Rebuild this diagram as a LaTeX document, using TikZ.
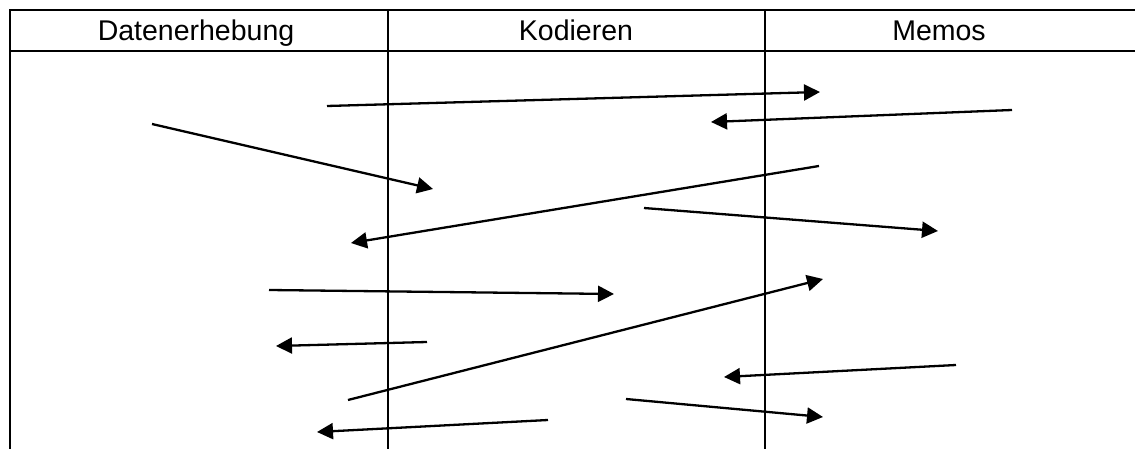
\documentclass[tikz,border=0pt]{standalone}
\usepackage{fontspec}
\setmainfont{Liberation Sans}
\usepackage{tikz}
\usetikzlibrary{arrows.meta}

\tikzset{
	colhead/.style={anchor=base,inner sep=0pt,font=\fontsize{28.5}{32}\selectfont},
	rule/.style={line width=2.2pt},
	flow/.style={line width=2.3pt,-{Triangle[length=16pt,width=16pt]}}
}

\begin{document}
\begin{tikzpicture}[x=1pt,y=-1pt]
		\useasboundingbox (0,0) rectangle (1135,449);

		% table
		\draw[rule] (10,449) -- (10,10) -- (1135,10);
		\draw[rule] (10,51) -- (1135,51);
		\draw[rule] (388,10) -- (388,449);
		\draw[rule] (765,10) -- (765,449);

		\node[colhead] (daten) at (196,41) {Datenerhebung};
		\node[colhead] (kodieren) at (576,41) {Kodieren};
		\node[colhead] (memos) at (939,41) {Memos};

		% end points
		\coordinate (as) at (327,106);  \coordinate (ae) at (820,92);
		\coordinate (bs) at (1012,110); \coordinate (be) at (711,122);
		\coordinate (cs) at (152,124);  \coordinate (ce) at (433,189);
		\coordinate (ds) at (819,166);  \coordinate (de) at (351,243);
		\coordinate (es) at (644,208);  \coordinate (ee) at (938,231);
		\coordinate (fs) at (269,290);  \coordinate (fe) at (614,294);
		\coordinate (gs) at (348,400);  \coordinate (ge) at (823,279);
		\coordinate (hs) at (427,342);  \coordinate (he) at (276,346);
		\coordinate (is) at (956,365);  \coordinate (ie) at (724,377);
		\coordinate (js) at (626,399);  \coordinate (je) at (823,417);
		\coordinate (ks) at (548,420);  \coordinate (ke) at (317,432);

		\begin{scope}[flow]
			\draw (as) -- (ae);
			\draw (bs) -- (be);
			\draw (cs) -- (ce);
			\draw (ds) -- (de);
			\draw (es) -- (ee);
			\draw (fs) -- (fe);
			\draw (gs) -- (ge);
			\draw (hs) -- (he);
			\draw (is) -- (ie);
			\draw (js) -- (je);
			\draw (ks) -- (ke);
		\end{scope}
	\end{tikzpicture}
\end{document}
